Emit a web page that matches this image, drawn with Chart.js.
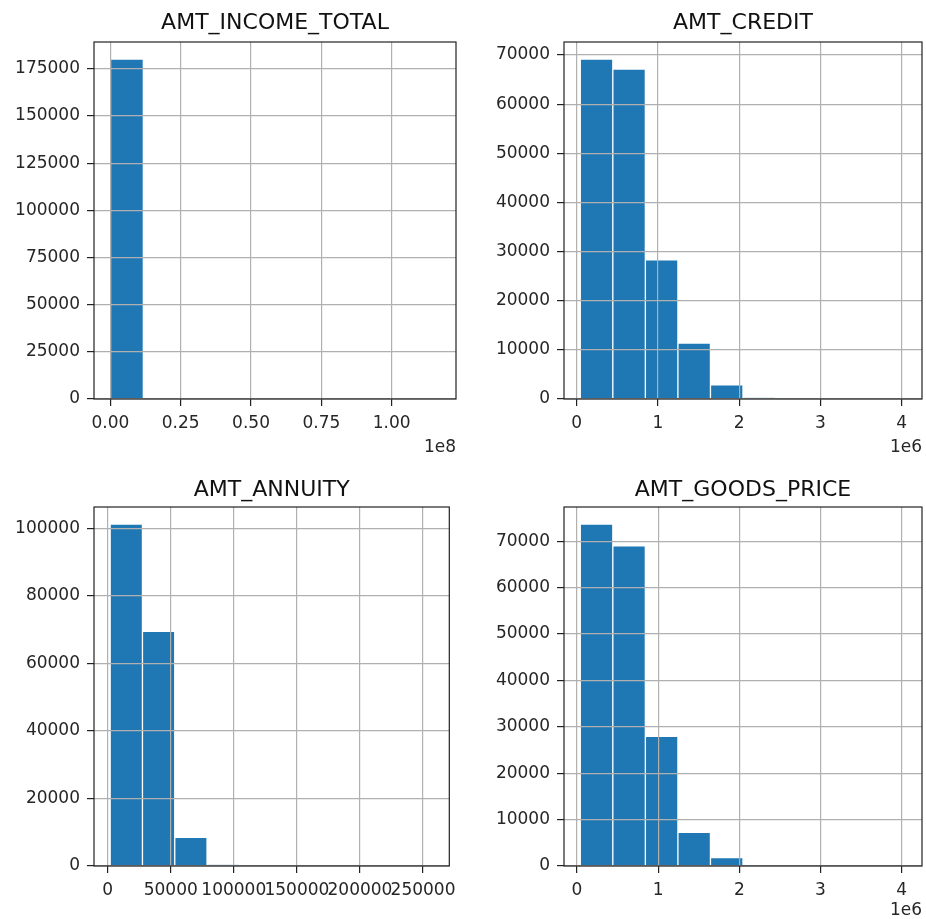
<!DOCTYPE html>
<html>
<head>
<meta charset="utf-8">
<script src="https://cdn.jsdelivr.net/npm/chart.js@4.4.1/dist/chart.umd.min.js"></script>
<style>
  html, body { margin: 0; padding: 0; background: #fff; }
  #wrap { position: relative; width: 926px; height: 919px; }
  .panel { position: absolute; }
</style>
</head>
<body>
<div id="wrap">
  <div class="panel" style="left:0;top:0;width:463px;height:460px"><canvas id="c1"></canvas></div>
  <div class="panel" style="left:463px;top:0;width:463px;height:460px"><canvas id="c2"></canvas></div>
  <div class="panel" style="left:0;top:460px;width:463px;height:459px"><canvas id="c3"></canvas></div>
  <div class="panel" style="left:463px;top:460px;width:463px;height:459px"><canvas id="c4"></canvas></div>
</div>
<script>
// histogram counts, 10 bins each
const incomeCounts  = [180200, 20, 3, 0, 0, 0, 0, 0, 0, 1];
const creditCounts  = [69200, 67150, 28300, 11400, 2860, 250, 45, 12, 3, 2];
const annuityCounts = [101300, 69500, 8460, 350, 60, 15, 4, 2, 1, 1];
const goodsCounts   = [73700, 69000, 27960, 7240, 1820, 200, 40, 10, 3, 2];

// data range of each column (first bin left edge, last bin right edge)
const incomeRange  = [25650, 117000000];
const creditRange  = [45000, 4050000];
const annuityRange = [1980, 258025.5];
const goodsRange   = [40500, 4050000];

// ticks
const incomeYTicks  = [0, 25000, 50000, 75000, 100000, 125000, 150000, 175000];
const creditYTicks  = [0, 10000, 20000, 30000, 40000, 50000, 60000, 70000];
const annuityYTicks = [0, 20000, 40000, 60000, 80000, 100000];
const goodsYTicks   = [0, 10000, 20000, 30000, 40000, 50000, 60000, 70000];

const incomeXTicks  = [0, 25000000, 50000000, 75000000, 100000000];
const incomeXLabels = ['0.00', '0.25', '0.50', '0.75', '1.00'];
const millionXTicks  = [0, 1000000, 2000000, 3000000, 4000000];
const millionXLabels = ['0', '1', '2', '3', '4'];
const annuityXTicks  = [0, 50000, 100000, 150000, 200000, 250000];
const annuityXLabels = ['0', '50000', '100000', '150000', '200000', '250000'];

const FONT = 'DejaVu Sans';
const TEXT = '#262626';

// black box around the axes (matplotlib spines) + title centred over the axes
const framePlugin = {
    id: 'frame',
    afterDraw(chart, args, opts) {
        const a = chart.chartArea;
        const ctx = chart.ctx;
        ctx.save();
        ctx.strokeStyle = '#222';
        ctx.lineWidth = 1.2;
        ctx.strokeRect(a.left, a.top, a.right - a.left, a.bottom - a.top);
        ctx.fillStyle = '#111';
        ctx.font = '22px "' + FONT + '"';
        ctx.textAlign = 'center';
        ctx.textBaseline = 'middle';
        ctx.fillText(opts.text, (a.left + a.right) / 2, opts.y);
        ctx.restore();
    }
};

function makeHist(id, o) {
    const n = o.counts.length;
    const lo = o.range[0], hi = o.range[1];
    const w = (hi - lo) / n;
    const pad = (hi - lo) * 0.05;
    const points = o.counts.map((c, i) => ({ x: lo + w * (i + 0.5), y: c }));
    const yMax = Math.max.apply(null, o.counts) * 1.05;

    const el = document.getElementById(id);
    const box = el.parentNode;
    const W = box.clientWidth, H = box.clientHeight;

    return new Chart(el, {
        type: 'bar',
        data: {
            datasets: [{
                data: points,
                backgroundColor: '#1f77b4',
                borderColor: 'rgba(255,255,255,0.65)',
                borderWidth: 1,
                borderSkipped: 'start',
                barPercentage: 1,
                categoryPercentage: 1
            }]
        },
        options: {
            responsive: true,
            maintainAspectRatio: false,
            animation: false,
            events: [],
            layout: { padding: { left: 0, top: o.area.top, bottom: 0, right: W - o.area.right } },
            plugins: {
                legend: { display: false },
                tooltip: { enabled: false },
                title: { display: false },
                frame: { text: o.title, y: o.titleY }
            },
            scales: {
                x: {
                    type: 'linear',
                    min: lo - pad,
                    max: hi + pad,
                    offset: false,
                    afterFit: s => { s.height = H - o.area.bottom; },
                    afterBuildTicks: s => { s.ticks = o.xTicks.map(v => ({ value: v })); },
                    grid: { offset: false, color: '#b0b0b0', lineWidth: 1.2, z: 1,
                            drawTicks: true, tickLength: 7, tickColor: '#222', tickWidth: 1.2 },
                    border: { display: false },
                    ticks: {
                        color: TEXT, padding: 7, maxRotation: 0, autoSkip: false,
                        font: { family: FONT, size: 17 },
                        callback: (v, i) => o.xLabels[i]
                    },
                    title: {
                        display: !!o.offsetText,
                        text: o.offsetText || '',
                        align: 'end',
                        color: TEXT,
                        font: { family: FONT, size: 17, lineHeight: 1 },
                        padding: { top: 0, bottom: o.offsetPad }
                    }
                },
                y: {
                    type: 'linear',
                    min: 0,
                    max: yMax,
                    afterFit: s => { s.width = o.area.left; },
                    afterBuildTicks: s => { s.ticks = o.yTicks.map(v => ({ value: v })); },
                    grid: { color: '#b0b0b0', lineWidth: 1.2, z: 1,
                            drawTicks: true, tickLength: 7, tickColor: '#222', tickWidth: 1.2 },
                    border: { display: false },
                    ticks: {
                        color: TEXT, padding: 7, autoSkip: false,
                        font: { family: FONT, size: 17 },
                        callback: v => String(v)
                    }
                }
            }
        },
        plugins: [framePlugin]
    });
}

makeHist('c1', {
    title: 'AMT_INCOME_TOTAL', counts: incomeCounts, range: incomeRange,
    yTicks: incomeYTicks, xTicks: incomeXTicks, xLabels: incomeXLabels,
    offsetText: '1e8', offsetPad: 4,
    titleY: 23, area: { left: 94, top: 42, right: 456, bottom: 399 }
});
makeHist('c2', {
    title: 'AMT_CREDIT', counts: creditCounts, range: creditRange,
    yTicks: creditYTicks, xTicks: millionXTicks, xLabels: millionXLabels,
    offsetText: '1e6', offsetPad: 4,
    titleY: 23, area: { left: 101, top: 42, right: 459, bottom: 399 }
});
makeHist('c3', {
    title: 'AMT_ANNUITY', counts: annuityCounts, range: annuityRange,
    yTicks: annuityYTicks, xTicks: annuityXTicks, xLabels: annuityXLabels,
    offsetText: '', offsetPad: 0,
    titleY: 30, area: { left: 94, top: 47, right: 456, bottom: 406 }
});
makeHist('c4', {
    title: 'AMT_GOODS_PRICE', counts: goodsCounts, range: goodsRange,
    yTicks: goodsYTicks, xTicks: millionXTicks, xLabels: millionXLabels,
    offsetText: '1e6', offsetPad: 0,
    titleY: 30, area: { left: 101, top: 47, right: 459, bottom: 406 }
});
</script>
</body>
</html>
